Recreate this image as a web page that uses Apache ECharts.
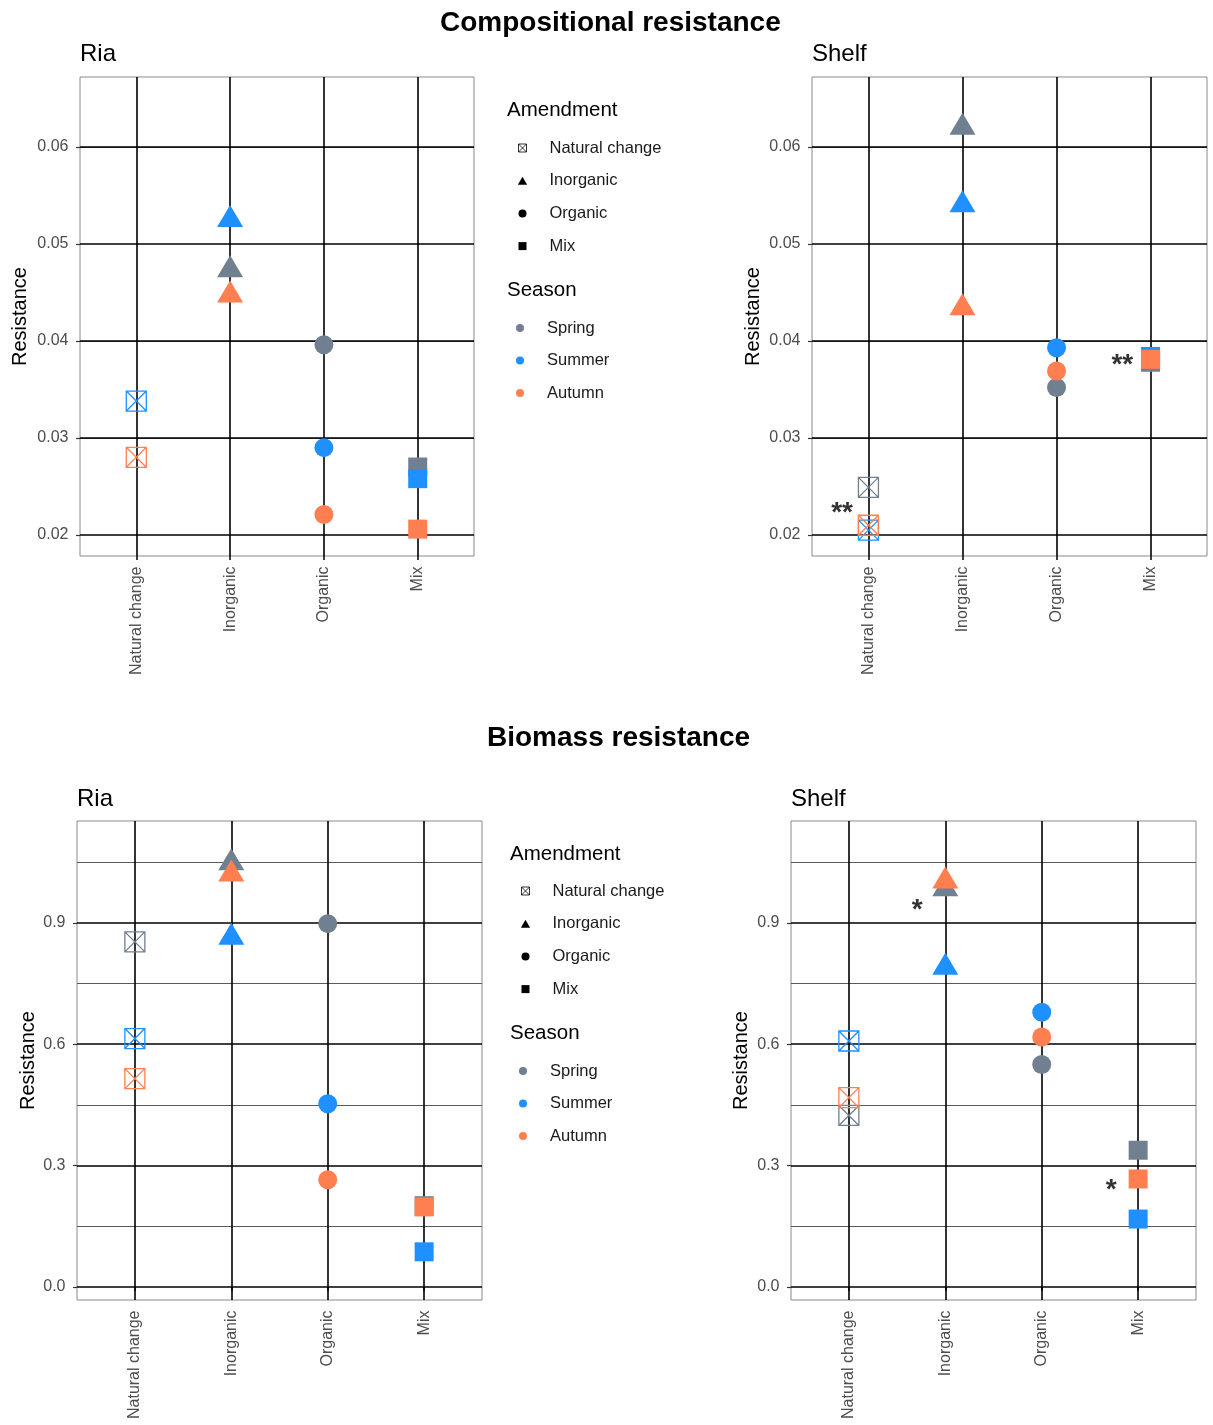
<!DOCTYPE html>
<html>
<head>
<meta charset="utf-8">
<script src="https://cdn.jsdelivr.net/npm/echarts@6/dist/echarts.min.js"></script>
<style>
  html, body { margin: 0; padding: 0; background: #fff; }
  #chart { width: 1213px; height: 1425px; }
</style>
</head>
<body>
<div id="chart"></div>
<script>
// Amendments on the x axis, seasons as colour
const categories = ['Natural change', 'Inorganic', 'Organic', 'Mix'];
const seasons = ['Spring', 'Summer', 'Autumn'];

// Compositional resistance (values in category order)
const compRiaSpring   = [null,   0.0473, 0.0396, 0.0270];
const compRiaSummer   = [0.0338, 0.0525, 0.0290, 0.0258];
const compRiaAutumn   = [0.0280, 0.0447, 0.0221, 0.0206];
const compShelfSpring = [0.0249, 0.0620, 0.0352, 0.0378];
const compShelfSummer = [0.0205, 0.0540, 0.0393, 0.0384];
const compShelfAutumn = [0.0210, 0.0434, 0.0369, 0.0381];

// Biomass resistance
const bioRiaSpring   = [0.853, 1.048, 0.898, 0.201];
const bioRiaSummer   = [0.614, 0.864, 0.453, 0.087];
const bioRiaAutumn   = [0.515, 1.020, 0.265, 0.198];
const bioShelfSpring = [0.424, 0.984, 0.550, 0.338];
const bioShelfSummer = [0.608, 0.790, 0.679, 0.168];
const bioShelfAutumn = [0.468, 1.003, 0.618, 0.267];

// Axis ticks
const compMajorTicks = [0.02, 0.03, 0.04, 0.05, 0.06];
const compMinorTicks = [0.025, 0.035, 0.045, 0.055, 0.065];
const bioMajorTicks = [0.0, 0.3, 0.6, 0.9];
const bioMinorTicks = [0.15, 0.45, 0.75, 1.05];
const compRange = [0.01783, 0.06720];
const bioRange = [-0.0321, 1.1517];

// Significance marks: [x position, y position, text]
const compShelfMarks = [[0.72, 0.0229, '**'], [3.70, 0.0381, '**']];
const bioShelfMarks = [[1.71, 0.945, '*'], [3.72, 0.254, '*']];

const seasonColors = { Spring: '#708090', Summer: '#1E90FF', Autumn: '#FF7F50' };
const FONT = '"Liberation Sans", Arial, Helvetica, sans-serif';

const boxX = 'path://M0,0L20,0L20,20L0,20Z M0,0L20,20 M20,0L0,20';
const triPath = 'path://M5,0L10,8.66L0,8.66Z';
const sqPath = 'path://M0,0L10,0L10,10L0,10Z';

function markFor(catIdx, color) {
  if (catIdx === 0) {
    return { symbol: boxX, symbolSize: 20, itemStyle: { color: 'none', borderColor: color, borderWidth: 1.3, opacity: 1 } };
  } else if (catIdx === 1) {
    return { symbol: 'triangle', symbolSize: [26, 22], symbolOffset: [0, -3.7], itemStyle: { color: color, opacity: 1 } };
  } else if (catIdx === 2) {
    return { symbol: 'circle', symbolSize: 19, itemStyle: { color: color, opacity: 1 } };
  }
  return { symbol: 'rect', symbolSize: 19, itemStyle: { color: color, opacity: 1 } };
}

function gridLines(major, minor) {
  const majorStyle = { color: '#000', width: 1.6, type: 'solid' };
  const minorStyle = { color: '#5a5a5a', width: 1, type: 'solid' };
  return [].concat(
    minor.map(v => ({ yAxis: v, lineStyle: minorStyle })),
    major.map(v => ({ yAxis: v, lineStyle: majorStyle })),
    [1, 2, 3, 4].map(v => ({ xAxis: v, lineStyle: majorStyle }))
  );
}

const panels = [
  { grid: { left: 80,  top: 77,  width: 394, height: 479 }, values: [compRiaSpring, compRiaSummer, compRiaAutumn],
    range: compRange, major: compMajorTicks, minor: compMinorTicks, digits: 2, nameGap: 50, marks: [] },
  { grid: { left: 812, top: 77,  width: 395, height: 479 }, values: [compShelfSpring, compShelfSummer, compShelfAutumn],
    range: compRange, major: compMajorTicks, minor: compMinorTicks, digits: 2, nameGap: 49, marks: compShelfMarks },
  { grid: { left: 77,  top: 821, width: 405, height: 479 }, values: [bioRiaSpring, bioRiaSummer, bioRiaAutumn],
    range: bioRange, major: bioMajorTicks, minor: bioMinorTicks, digits: 1, nameGap: 39, marks: [] },
  { grid: { left: 791, top: 821, width: 405, height: 479 }, values: [bioShelfSpring, bioShelfSummer, bioShelfAutumn],
    range: bioRange, major: bioMajorTicks, minor: bioMinorTicks, digits: 1, nameGap: 40, marks: bioShelfMarks }
];

const grids = [], xAxes = [], yAxes = [], series = [];

panels.forEach((p, gi) => {
  grids.push(Object.assign({ show: true, borderColor: '#8a8a8a', borderWidth: 1, backgroundColor: '#fff' }, p.grid));
  xAxes.push({
    type: 'value', gridIndex: gi, min: 0.4, max: 4.6,
    axisLine: { show: false }, splitLine: { show: false },
    axisTick: { show: true, customValues: [1, 2, 3, 4], length: 4, lineStyle: { color: '#000', width: 1.5 } },
    axisLabel: { customValues: [1, 2, 3, 4], rotate: 90, margin: 10.5, fontSize: 16, color: '#4d4d4d', fontFamily: FONT,
      formatter: v => categories[Math.round(v) - 1] }
  });
  yAxes.push({
    type: 'value', gridIndex: gi, min: p.range[0], max: p.range[1],
    name: 'Resistance', nameLocation: 'middle', nameGap: p.nameGap, nameRotate: 90,
    nameTextStyle: { fontSize: 20, color: '#000', fontFamily: FONT },
    axisLine: { show: false }, splitLine: { show: false },
    axisTick: { show: true, customValues: p.major, length: 4, lineStyle: { color: '#333', width: 1.2 } },
    axisLabel: { customValues: p.major, margin: 11.5, fontSize: 16, color: '#4d4d4d', fontFamily: FONT,
      formatter: v => Number(v).toFixed(p.digits) }
  });
  seasons.forEach((s, si) => {
    const color = seasonColors[s];
    const data = [];
    p.values[si].forEach((v, ci) => {
      if (v === null) return;
      data.push(Object.assign({ value: [ci + 1, v] }, markFor(ci, color)));
    });
    const ser = {
      type: 'scatter', name: s, xAxisIndex: gi, yAxisIndex: gi, z: 10, silent: true,
      itemStyle: { color: color, opacity: 1 }, data: data
    };
    if (si === 0) {
      ser.markLine = {
        silent: true, z: 1, symbol: ['none', 'none'], label: { show: false },
        emphasis: { disabled: true }, animation: false, data: gridLines(p.major, p.minor)
      };
    }
    series.push(ser);
  });
  if (p.marks.length) {
    series.push({
      type: 'scatter', xAxisIndex: gi, yAxisIndex: gi, z: 11, silent: true, symbolSize: 0,
      data: p.marks,
      label: { show: true, position: 'inside', formatter: d => d.data[2], fontSize: 28, fontWeight: 'bold',
        color: '#000', fontFamily: FONT, offset: [0, 6] }
    });
  }
});

// Shape key entries (no data, used only by the legend)
const shapeIcons = [boxX, triPath, 'circle', sqPath];
categories.forEach((c, ci) => {
  series.push({
    type: 'scatter', name: c, xAxisIndex: 0, yAxisIndex: 0, data: [],
    itemStyle: ci === 0 ? { color: 'none', borderColor: '#000', borderWidth: 1 } : { color: '#000', opacity: 1 }
  });
});

function shapeLegend(left, top) {
  return {
    orient: 'vertical', left: left, top: top, padding: 0, itemGap: 14.7, itemWidth: 44, itemHeight: 8,
    selectedMode: false, symbolKeepAspect: true,
    textStyle: { fontSize: 16.5, color: '#1a1a1a', fontFamily: FONT, lineHeight: 18 },
    data: categories.map((c, ci) => ({
      name: c, icon: shapeIcons[ci],
      itemStyle: ci === 0 ? { color: 'none', borderColor: '#000', borderWidth: 1 } : { color: '#000', borderWidth: 0, opacity: 1 }
    }))
  };
}
function seasonLegend(left, top) {
  return {
    orient: 'vertical', left: left, top: top, padding: 0, itemGap: 14.5, itemWidth: 44, itemHeight: 8,
    selectedMode: false,
    textStyle: { fontSize: 16.5, color: '#1a1a1a', fontFamily: FONT, lineHeight: 18 },
    data: seasons.map(s => ({ name: s, icon: 'circle', itemStyle: { color: seasonColors[s], borderWidth: 0, opacity: 1 } }))
  };
}

const titleStyle = (size, weight) => ({ fontSize: size, fontWeight: weight, color: '#000', fontFamily: FONT });

const option = {
  animation: false,
  backgroundColor: '#fff',
  title: [
    { text: 'Compositional resistance', left: 440, top: 9, padding: 0, textStyle: titleStyle(28, 'bold') },
    { text: 'Biomass resistance', left: 487, top: 724, padding: 0, textStyle: titleStyle(28, 'bold') },
    { text: 'Ria', left: 80, top: 42, padding: 0, textStyle: titleStyle(24, 'normal') },
    { text: 'Shelf', left: 812, top: 42, padding: 0, textStyle: titleStyle(24, 'normal') },
    { text: 'Ria', left: 77, top: 787, padding: 0, textStyle: titleStyle(24, 'normal') },
    { text: 'Shelf', left: 791, top: 787, padding: 0, textStyle: titleStyle(24, 'normal') },
    { text: 'Amendment', left: 507, top: 100, padding: 0, textStyle: titleStyle(20.5, 'normal') },
    { text: 'Season', left: 507, top: 280, padding: 0, textStyle: titleStyle(20.5, 'normal') },
    { text: 'Amendment', left: 510, top: 844, padding: 0, textStyle: titleStyle(20.5, 'normal') },
    { text: 'Season', left: 510, top: 1023, padding: 0, textStyle: titleStyle(20.5, 'normal') }
  ],
  legend: [
    shapeLegend(516, 139), seasonLegend(516, 319),
    shapeLegend(519, 882), seasonLegend(519, 1062)
  ],
  grid: grids,
  xAxis: xAxes,
  yAxis: yAxes,
  series: series
};

const chart = echarts.init(document.getElementById('chart'), null, { renderer: 'canvas', width: 1213, height: 1425 });
chart.setOption(option);
</script>
</body>
</html>
